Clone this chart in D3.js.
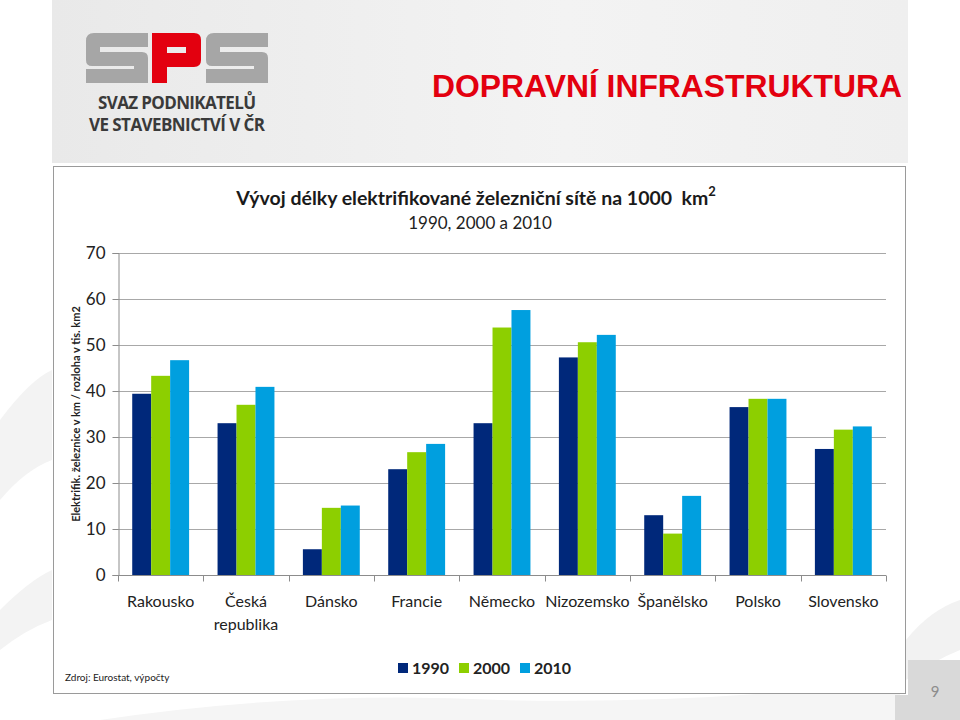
<!DOCTYPE html>
<html><head><meta charset="utf-8">
<script src="https://cdn.jsdelivr.net/npm/d3@7"></script>
<style>body{margin:0;background:#fff}svg{display:block}</style>
</head><body>
<svg id="c" width="960" height="720"></svg>
<script>
const categories = [["Rakousko"],["Česká","republika"],["Dánsko"],["Francie"],["Německo"],["Nizozemsko"],["Španělsko"],["Polsko"],["Slovensko"]];
const seriesNames = ["1990","2000","2010"];
const values1990 = [39.4, 33.0, 5.6, 23.0, 33.0, 47.3, 13.0, 36.5, 27.4];
const values2000 = [43.3, 37.0, 14.6, 26.7, 53.8, 50.6, 9.0, 38.3, 31.6];
const values2010 = [46.7, 40.9, 15.1, 28.5, 57.6, 52.2, 17.2, 38.3, 32.3];
const yTicks = [0,10,20,30,40,50,60,70];
const colors = ["#00287a","#8dcf00","#009fdf"];

const svg = d3.select("#c");
// slide background
const defs = svg.append("defs");
const g1 = defs.append("linearGradient").attr("id","hdr").attr("x1","0").attr("x2","1").attr("y1","0").attr("y2","0");
g1.append("stop").attr("offset","0").attr("stop-color","#e9e9e9");
g1.append("stop").attr("offset","0.6").attr("stop-color","#f3f3f3");
g1.append("stop").attr("offset","1").attr("stop-color","#efefef");
svg.append("rect").attr("x",52).attr("y",0).attr("width",856).attr("height",163).attr("fill","url(#hdr)");
// lower decorative swooshes
svg.append("path").attr("d","M0,420 Q30,380 52,370 L52,460 Q25,470 0,500 Z").attr("fill","#f3f3f3");
svg.append("path").attr("d","M0,610 Q30,580 52,570 L52,620 Q25,630 0,650 Z").attr("fill","#f3f3f3");
svg.append("path").attr("d","M100,720 Q300,690 500,700 Q700,705 900,680 L900,720 Z").attr("fill","#f5f5f5");
svg.append("path").attr("d","M906,640 Q930,610 960,600 L960,650 Q935,660 906,680 Z").attr("fill","#f2f2f2");
svg.append("rect").attr("x",908).attr("y",660).attr("width",52).attr("height",60).attr("fill","#d9d9d9");
svg.append("rect").attr("x",895).attr("y",695).attr("width",13).attr("height",25).attr("fill","#d9d9d9");
svg.append("text").attr("x",935).attr("y",697).attr("text-anchor","middle").attr("font-family","Lato, sans-serif").attr("font-size",15).attr("fill","#8c8c8c").text("9");

// logo
const logo = svg.append("g");
function sShape(x0){
  const w=62,t=14;
  logo.append("path").attr("d",`M${x0+8},33 H${x0+w} V${33+t} H${x0+14} V${52} H${x0+w-6} Q${x0+w},52 ${x0+w},58 V${83} H${x0} V${83-t} H${x0+w-14} V${66} H${x0+6} Q${x0},66 ${x0},60 V41 Q${x0},33 ${x0+8},33 Z`).attr("fill","#a6a6a6");
}
sShape(86); sShape(206);
logo.append("path").attr("d","M152,33 H194 Q201,33 201,40 V60 Q201,67 194,67 H167 V83 H152 Z M167,47 V53 H186 V47 Z").attr("fill","#e3000f").attr("fill-rule","evenodd");
logo.append("text").attr("x",177).attr("y",109).attr("text-anchor","middle").attr("font-family","Open Sans, sans-serif").attr("font-weight","bold").attr("font-size",17).attr("fill","#3a3a3a").attr("textLength",158).text("SVAZ PODNIKATELŮ");
logo.append("text").attr("x",177).attr("y",131).attr("text-anchor","middle").attr("font-family","Open Sans, sans-serif").attr("font-weight","bold").attr("font-size",17).attr("fill","#3a3a3a").attr("textLength",176).text("VE STAVEBNICTVÍ V ČR");

svg.append("text").attr("x",432).attr("y",97).attr("font-family","Liberation Sans, Arial, sans-serif").attr("font-weight","bold").attr("font-size",31).attr("fill","#e3000f").attr("textLength",470).attr("lengthAdjust","spacingAndGlyphs").text("DOPRAVNÍ INFRASTRUKTURA");

// chart box
svg.append("rect").attr("x",53.5).attr("y",166.5).attr("width",852).attr("height",527).attr("fill","#fff").attr("stroke","#9a9a9a").attr("stroke-width",1);

const margin = {left:118, right:886, top:253, bottom:575};
const x = d3.scaleBand().domain(d3.range(categories.length)).range([margin.left, margin.right]).paddingInner(0).paddingOuter(0);
const xs = d3.scaleBand().domain(seriesNames).range([0, x.bandwidth()]).paddingInner(0).paddingOuter(0.75);
const y = d3.scaleLinear().domain([0,70]).range([margin.bottom, margin.top]);

const font = "Lato, Carlito, Calibri, sans-serif";
// gridlines
svg.append("g").selectAll("line").data(yTicks.filter(d=>d>0)).join("line")
  .attr("x1",margin.left).attr("x2",margin.right).attr("y1",d=>Math.round(y(d))+0.5).attr("y2",d=>Math.round(y(d))+0.5)
  .attr("stroke","#a8a8a8").attr("stroke-width",1);

// bars
const seriesData = [values1990, values2000, values2010];
seriesData.forEach((vals,si)=>{
  svg.append("g").selectAll("rect").data(vals).join("rect")
    .attr("x",(d,i)=>x(i)+xs(seriesNames[si]))
    .attr("width",xs.bandwidth())
    .attr("y",d=>y(d)).attr("height",d=>y(0)-y(d))
    .attr("fill",colors[si]);
});

// y axis
const yAxis = svg.append("g").attr("transform",`translate(${margin.left+0.5},0)`)
  .call(d3.axisLeft(y).tickValues(yTicks).tickSize(6).tickPadding(7));
yAxis.select(".domain").attr("stroke","#8c8c8c");
yAxis.selectAll(".tick line").attr("stroke","#8c8c8c");
yAxis.selectAll(".tick text").attr("font-family",font).attr("font-size",17).attr("fill","#222").attr("dy","0.35em");

// x axis
const xAxisG = svg.append("g").attr("transform",`translate(0,${margin.bottom+0.5})`);
xAxisG.append("line").attr("x1",margin.left).attr("x2",margin.right).attr("stroke","#8c8c8c");
xAxisG.selectAll("line.tk").data(d3.range(categories.length+1)).join("line").attr("class","tk")
  .attr("x1",i=>Math.round(margin.left + i*x.step())+0.5).attr("x2",i=>Math.round(margin.left + i*x.step())+0.5)
  .attr("y1",0).attr("y2",6).attr("stroke","#8c8c8c");
const lbl = xAxisG.selectAll("text").data(categories).join("text")
  .attr("x",(d,i)=>x(i)+x.bandwidth()/2).attr("y",31)
  .attr("text-anchor","middle").attr("font-family",font).attr("font-size",16).attr("fill","#222");
lbl.selectAll("tspan").data(d=>d).join("tspan").attr("x",function(){return this.parentNode.getAttribute("x");})
  .attr("dy",(d,j)=>j===0?0:23).text(d=>d);

// y label
svg.append("text").attr("transform","translate(80,414) rotate(-90)").attr("text-anchor","middle")
  .attr("font-family",font).attr("font-weight","bold").attr("font-size",11).attr("fill","#222")
  .text("Elektrifik. železnice v km / rozloha v tis. km2");

// titles
const title = svg.append("text").attr("x",476).attr("y",205).attr("text-anchor","middle").attr("font-family",font).attr("font-weight","bold").attr("font-size",19.5).attr("fill","#1a1a1a").style("white-space","pre");
title.append("tspan").text("Vývoj délky elektrifikované železniční sítě na 1000  km");
title.append("tspan").attr("dy",-9).attr("font-size",13).text("2");
svg.append("text").attr("x",480).attr("y",229).attr("text-anchor","middle").attr("font-family",font).attr("font-size",17).attr("fill","#222").text("1990, 2000 a 2010");

// legend
const legX = [398, 459, 520];
const leg = svg.append("g");
seriesNames.forEach((s,i)=>{
  leg.append("rect").attr("x",legX[i]).attr("y",663).attr("width",10).attr("height",10).attr("fill",colors[i]);
  leg.append("text").attr("x",legX[i]+14).attr("y",674).attr("font-family",font).attr("font-weight","bold").attr("font-size",16).attr("fill","#222").text(s);
});

svg.append("text").attr("x",65).attr("y",681).attr("font-family",font).attr("font-size",10).attr("fill","#222").text("Zdroj: Eurostat, výpočty");
</script>
</body></html>
